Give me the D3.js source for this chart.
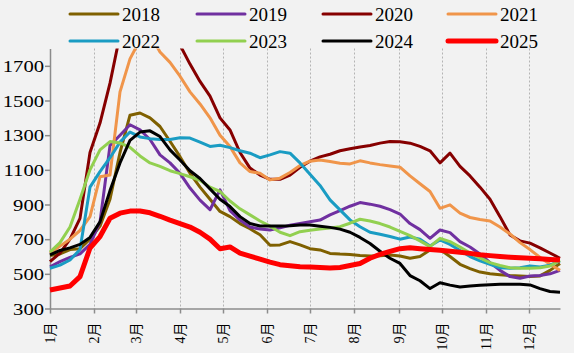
<!DOCTYPE html>
<html>
<head>
<meta charset="utf-8">
<script src="https://cdn.jsdelivr.net/npm/d3@7"></script>
<style>
  body { margin: 0; background: #f2f2f2; }
  svg { display: block; }
</style>
</head>
<body>
<div id="chart"></div>
<script>
// Weekly values, week 0 .. 51
const s2018 = [605,615,640,645,700,775,930,1200,1415,1428,1400,1350,1265,1176,1080,1000,930,860,830,790,760,725,665,667,686,667,645,638,618,614,612,606,603,605,609,603,590,600,638,640,600,555,530,510,500,495,490,488,485,488,520,560];
const s2019 = [541,570,595,615,670,800,1240,1300,1360,1331,1275,1186,1140,1080,995,925,870,984,865,810,770,758,753,765,780,790,800,810,840,865,890,911,902,890,870,845,790,755,705,753,738,686,655,615,565,520,484,475,488,490,500,520];
const s2020 = [570,620,700,820,1200,1370,1600,1880,2000,2050,2050,2000,1920,1820,1710,1610,1525,1400,1330,1200,1110,1070,1045,1045,1070,1115,1150,1175,1190,1210,1222,1232,1240,1254,1263,1262,1254,1235,1210,1140,1196,1120,1065,1000,930,830,724,690,677,650,620,590];
const s2021 = [619,660,700,750,830,1060,1070,1550,1740,1850,1880,1780,1720,1640,1550,1480,1400,1300,1234,1140,1090,1080,1042,1052,1085,1125,1150,1157,1148,1138,1134,1152,1140,1130,1122,1115,1065,1020,975,878,898,850,825,813,805,770,730,680,640,595,555,520];
const s2022 = [532,550,580,640,1000,1090,1170,1260,1318,1290,1280,1275,1275,1285,1283,1260,1235,1242,1228,1210,1196,1170,1186,1205,1196,1140,1075,1010,927,869,811,772,740,728,715,700,712,700,660,696,670,635,600,575,555,535,532,535,545,540,550,575];
const s2023 = [625,680,770,930,1100,1215,1263,1255,1230,1180,1140,1120,1095,1078,1060,1040,1000,975,920,875,840,805,775,740,720,743,752,758,765,772,792,815,805,790,770,745,720,690,657,705,686,655,620,592,565,548,535,532,532,535,545,578];
const s2024 = [609,635,650,670,710,800,980,1140,1270,1318,1325,1292,1215,1157,1095,1050,990,930,888,830,790,776,776,776,778,782,782,775,768,758,740,710,675,630,590,560,490,460,415,449,435,424,430,434,437,440,440,440,436,415,398,394];
const s2025 = [407,418,430,484,649,715,821,850,862,862,852,832,810,790,770,740,700,645,655,620,602,585,568,553,547,541,539,537,533,537,548,560,590,612,630,645,650,645,640,636,630,624,618,610,605,600,596,593,590,587,583,580];

const years = ['2018', '2019', '2020', '2021', '2022', '2023', '2024', '2025'];
const colors = ['#7f6000', '#7030a0', '#860000', '#f0954a', '#1a9cc3', '#92d050', '#000000', '#ff0000'];
const yTicks = [300, 500, 700, 900, 1100, 1300, 1500, 1700];
const monthLabels = ['1月','2月','3月','4月','5月','6月','7月','8月','9月','10月','11月','12月'];
const monthWeeks = [0, 4.4, 8.6, 13.0, 17.3, 21.7, 26.0, 30.4, 34.9, 39.2, 43.6, 47.9];

const series = [s2018, s2019, s2020, s2021, s2022, s2023, s2024, s2025]
  .map((values, i) => ({ year: years[i], color: colors[i], values }));

const width = 574, height = 353;
const plot = { left: 50, right: 560, top: 48.5, bottom: 308.5 };

const svg = d3.select('#chart').append('svg')
  .attr('width', width)
  .attr('height', height)
  .style('background', '#f2f2f2');

const x = d3.scaleLinear().domain([0, 51]).range([plot.left, plot.right]);
const y = d3.scaleLinear().domain([300, 1800]).range([plot.bottom, plot.top]);

// Vertical dotted grid at month ticks
svg.append('g')
  .selectAll('line')
  .data(monthWeeks.slice(1))
  .enter()
  .append('line')
  .attr('x1', d => Math.round(x(d)) + 0.5)
  .attr('x2', d => Math.round(x(d)) + 0.5)
  .attr('y1', plot.top)
  .attr('y2', plot.bottom)
  .attr('stroke', '#b4b4b4')
  .attr('stroke-width', 1)
  .attr('stroke-dasharray', '2,2');

// Y axis
svg.append('g')
  .attr('transform', `translate(${plot.left},0)`)
  .call(d3.axisLeft(y).tickValues(yTicks).tickFormat(d3.format('d')).tickSize(5).tickPadding(0).tickSizeOuter(0))
  .call(g => g.select('.domain').attr('stroke', '#8c8c8c').attr('stroke-width', 1.5))
  .call(g => g.selectAll('.tick line').attr('stroke', '#8c8c8c').attr('stroke-width', 1.5))
  .call(g => g.selectAll('.tick text')
    .attr('x', null)
    .attr('dy', '0.35em')
    .attr('transform', 'translate(-6,0) scale(1.25,1)')
    .attr('fill', '#000')
    .style('font-family', '"Liberation Serif", "Times New Roman", serif')
    .style('font-size', '16.5px'));

// X axis
const xAxis = d3.axisBottom(x)
  .tickValues(monthWeeks)
  .tickFormat((d, i) => monthLabels[i])
  .tickSize(5)
  .tickSizeOuter(0);

svg.append('g')
  .attr('transform', `translate(0,${plot.bottom})`)
  .call(xAxis)
  .call(g => g.select('.domain').attr('stroke', '#8c8c8c').attr('stroke-width', 1.5))
  .call(g => g.selectAll('.tick line').attr('stroke', '#8c8c8c').attr('stroke-width', 1.5))
  .call(g => g.selectAll('.tick text')
    .attr('y', 0)
    .attr('dy', '0.35em')
    .attr('transform', 'translate(0,14) rotate(-90)')
    .attr('text-anchor', 'end')
    .attr('fill', '#000')
    .style('font-family', '"Liberation Serif", "Noto Sans CJK SC", serif')
    .style('font-size', '14px'));

// Lines, clipped to plot area vertically
svg.append('clipPath')
  .attr('id', 'plot-clip')
  .append('rect')
  .attr('x', 0)
  .attr('y', plot.top)
  .attr('width', width)
  .attr('height', plot.bottom - plot.top + 5);

const line = d3.line()
  .x((d, i) => x(i))
  .y(d => y(d));

svg.append('g')
  .attr('clip-path', 'url(#plot-clip)')
  .selectAll('path')
  .data(series)
  .enter()
  .append('path')
  .attr('d', d => line(d.values))
  .attr('fill', 'none')
  .attr('stroke', d => d.color)
  .attr('stroke-width', d => d.year === '2025' ? 5 : 3)
  .attr('stroke-linejoin', 'round');

// Legend (4 columns x 2 rows)
const legendX = [70, 197, 323, 448];
const legendY = [14, 41];

const legend = svg.append('g')
  .selectAll('g')
  .data(series)
  .enter()
  .append('g')
  .attr('transform', (d, i) => `translate(${legendX[i % 4]},${legendY[Math.floor(i / 4)]})`);

legend.append('line')
  .attr('x1', 0)
  .attr('x2', 48)
  .attr('stroke', d => d.color)
  .attr('stroke-width', d => d.year === '2025' ? 5 : 3)
  .attr('stroke-linecap', 'round');

legend.append('text')
  .attr('x', 52)
  .attr('dy', '0.35em')
  .attr('fill', '#000')
  .style('font-family', '"Liberation Serif", "Times New Roman", serif')
  .style('font-size', '19px')
  .text(d => d.year);
</script>
</body>
</html>
